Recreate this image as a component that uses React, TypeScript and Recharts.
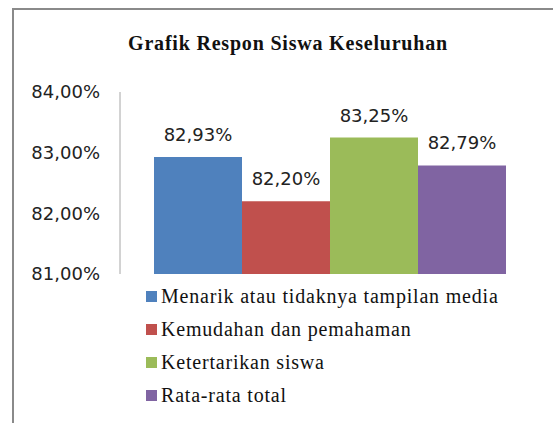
import React from 'react';
import { BarChart, Bar, XAxis, YAxis, LabelList, Legend } from 'recharts';

const categories = ['Keseluruhan'];
const seriesNames = [
  'Menarik atau tidaknya tampilan media',
  'Kemudahan dan pemahaman',
  'Ketertarikan siswa',
  'Rata-rata total',
];
const seriesValues = [82.93, 82.2, 83.25, 82.79];
const seriesColors = ['#4F81BD', '#C0504D', '#9BBB59', '#8064A2'];
const yTicks = [81, 82, 83, 84];
const title = 'Grafik Respon Siswa Keseluruhan';

const data = categories.map((c) => {
  const row: Record<string, any> = { name: c };
  seriesNames.forEach((s, i) => {
    row['s' + i] = seriesValues[i];
  });
  return row;
});

const fmt = (v: number) => v.toFixed(2).replace('.', ',') + '%';
const sansFont = "'DejaVu Sans', sans-serif";
const serifFont = "'Liberation Serif', serif";

const LegendContent = () => (
  <div style={{ fontFamily: serifFont, fontSize: 20, color: '#111' }}>
    {seriesNames.map((s, i) => (
      <div key={s} style={{ display: 'flex', alignItems: 'center', height: 33, whiteSpace: 'nowrap' }}>
        <span style={{ display: 'inline-block', width: 11, height: 11, background: seriesColors[i], marginRight: 4 }} />
        <span style={{ letterSpacing: 0.8 }}>{s}</span>
      </div>
    ))}
  </div>
);

export default function App() {
  return (
    <div style={{ position: 'absolute', left: 0, top: 0, width: 553, height: 423, overflow: 'hidden', background: '#fff' }}>
      <div style={{ position: 'absolute', left: 12, top: 8, width: 700, height: 600, border: '2px solid #8a8a8a', boxSizing: 'border-box' }} />
      <div
        style={{
          position: 'absolute',
          left: 88,
          width: 400,
          top: 32,
          textAlign: 'center',
          fontFamily: serifFont,
          fontWeight: 'bold',
          fontSize: 20,
          letterSpacing: 0.8,
          color: '#111',
          whiteSpace: 'nowrap',
        }}
      >
        {title}
      </div>
      <div style={{ position: 'absolute', left: 0, top: 0 }}>
        <BarChart
          width={553}
          height={423}
          data={data}
          margin={{ top: 92, right: 15, bottom: 149, left: 0 }}
          barCategoryGap={34}
          barGap={0}
        >
          <XAxis dataKey="name" hide />
          <YAxis
            width={120}
            domain={[81, 84]}
            ticks={yTicks}
            interval={0}
            tickFormatter={fmt}
            tickLine={false}
            tickSize={0}
            tickMargin={20}
            axisLine={{ stroke: '#a6a6a6', strokeWidth: 1 }}
            tick={{ fill: '#222', fontSize: 18, style: { fontFamily: sansFont } }}
            allowDataOverflow
          />
          <Legend
            layout="vertical"
            align="center"
            verticalAlign="middle"
            content={<LegendContent />}
            wrapperStyle={{ position: 'absolute', left: 146, top: 280, width: 400 }}
          />
          {seriesNames.map((s, i) => (
            <Bar key={s} dataKey={'s' + i} name={s} fill={seriesColors[i]} isAnimationActive={false}>
              <LabelList
                dataKey={'s' + i}
                position="top"
                offset={16}
                formatter={(v: any) => fmt(Number(v))}
                style={{ fill: '#222', fontSize: 18, fontFamily: sansFont }}
              />
            </Bar>
          ))}
        </BarChart>
      </div>
    </div>
  );
}
